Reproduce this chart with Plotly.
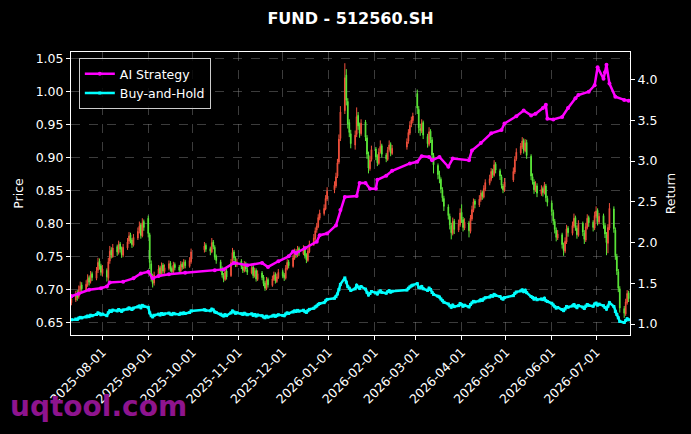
import pandas as pd
import plotly.graph_objects as go

# Trading calendar (weekdays minus exchange holidays)
start_date = "2025-07-11"
end_date = "2026-07-23"
holidays = ["2025-10-01", "2025-10-02", "2025-10-03", "2025-10-06", "2025-10-07", "2025-10-08",
            "2026-01-01", "2026-01-02",
            "2026-02-16", "2026-02-17", "2026-02-18", "2026-02-19", "2026-02-20",
            "2026-05-01", "2026-05-04", "2026-05-05"]

# Daily OHLC (one row per week)
open_ = [0.680,
         0.684, 0.694, 0.689, 0.700, 0.707,
         0.699, 0.707, 0.718, 0.712, 0.724,
         0.717, 0.729, 0.743, 0.736, 0.724,
         0.729, 0.717, 0.743, 0.760, 0.750,
         0.765, 0.756, 0.769, 0.762, 0.752,
         0.763, 0.773, 0.783, 0.775, 0.767,
         0.778, 0.789, 0.798, 0.781, 0.803,
         0.808, 0.783, 0.739, 0.716, 0.710,
         0.721, 0.733, 0.723, 0.737, 0.727,
         0.732, 0.740, 0.732, 0.726, 0.738,
         0.734, 0.728, 0.739, 0.733, 0.742,
         0.735, 0.742,
         0.760, 0.767,
         0.762, 0.757, 0.772, 0.764, 0.750,
         0.742, 0.732, 0.721, 0.715, 0.728,
         0.721, 0.742, 0.757, 0.747, 0.737,
         0.743, 0.734, 0.728, 0.739, 0.730,
         0.725, 0.734, 0.720, 0.729, 0.715,
         0.725, 0.719, 0.710, 0.701, 0.715,
         0.706, 0.715, 0.723, 0.712, 0.718,
         0.727, 0.722, 0.717, 0.731, 0.742,
         0.735, 0.747, 0.758, 0.751, 0.762,
         0.754, 0.763, 0.752, 0.744, 0.757,
         0.768, 0.777, 0.790, 0.795, 0.808,
         0.815, 0.822, 0.837,
         0.851, 0.857, 0.872, 0.893, 0.929,
         0.971, 1.025, 0.985, 0.953, 0.936,
         0.919, 0.935, 0.964, 0.949, 0.936,
         0.954, 0.930, 0.904, 0.883, 0.897,
         0.913, 0.902, 0.891, 0.909, 0.918,
         0.904, 0.897, 0.912, 0.920, 0.906,
         0.916, 0.925, 0.937, 0.950, 0.956,
         0.997, 0.973, 0.944, 0.940, 0.953,
         0.932, 0.920, 0.940, 0.927, 0.903,
         0.888, 0.873, 0.867, 0.851, 0.838,
         0.825, 0.811, 0.797, 0.785, 0.804,
         0.790, 0.798, 0.817, 0.806, 0.793,
         0.801, 0.788, 0.807, 0.820, 0.834,
         0.828, 0.836, 0.847, 0.840, 0.852,
         0.861, 0.867, 0.880, 0.873, 0.890,
         0.880, 0.871, 0.857, 0.850,
         0.866, 0.878, 0.898,
         0.907, 0.916, 0.926, 0.910, 0.923,
         0.902, 0.871, 0.863, 0.850, 0.857,
         0.845, 0.853, 0.846, 0.857, 0.838,
         0.831, 0.817, 0.803, 0.790, 0.778,
         0.783, 0.767, 0.758, 0.772, 0.793,
         0.785, 0.796, 0.809, 0.793, 0.782,
         0.800, 0.786, 0.775, 0.794, 0.809,
         0.802, 0.793, 0.811, 0.820, 0.802,
         0.812, 0.797, 0.783, 0.770, 0.793,
         0.822, 0.790, 0.750, 0.727, 0.701,
         0.671, 0.663, 0.680, 0.695]

high = [0.693,
        0.698, 0.699, 0.706, 0.712, 0.711,
        0.714, 0.723, 0.721, 0.728, 0.727,
        0.734, 0.748, 0.747, 0.739, 0.737,
        0.732, 0.748, 0.766, 0.764, 0.769,
        0.768, 0.774, 0.772, 0.765, 0.769,
        0.778, 0.787, 0.786, 0.778, 0.784,
        0.794, 0.803, 0.801, 0.808, 0.806,
        0.812, 0.786, 0.744, 0.724, 0.727,
        0.737, 0.736, 0.741, 0.740, 0.738,
        0.744, 0.743, 0.735, 0.742, 0.741,
        0.737, 0.743, 0.742, 0.746, 0.745,
        0.749, 0.762,
        0.772, 0.770,
        0.765, 0.778, 0.775, 0.767, 0.753,
        0.745, 0.735, 0.725, 0.732, 0.731,
        0.746, 0.763, 0.760, 0.750, 0.747,
        0.746, 0.737, 0.743, 0.742, 0.734,
        0.739, 0.737, 0.733, 0.732, 0.729,
        0.728, 0.722, 0.713, 0.719, 0.718,
        0.721, 0.727, 0.726, 0.724, 0.731,
        0.730, 0.725, 0.737, 0.746, 0.745,
        0.753, 0.762, 0.761, 0.766, 0.765,
        0.767, 0.766, 0.755, 0.763, 0.774,
        0.784, 0.794, 0.801, 0.814, 0.821,
        0.829, 0.843, 0.855,
        0.864, 0.877, 0.898, 0.935, 0.978,
        1.043, 1.034, 0.990, 0.958, 0.942,
        0.941, 0.976, 0.969, 0.953, 0.958,
        0.957, 0.934, 0.909, 0.902, 0.918,
        0.916, 0.905, 0.914, 0.926, 0.921,
        0.907, 0.916, 0.926, 0.923, 0.919,
        0.929, 0.943, 0.955, 0.962, 0.968,
        1.003, 0.978, 0.951, 0.958, 0.956,
        0.936, 0.946, 0.943, 0.931, 0.907,
        0.891, 0.880, 0.870, 0.855, 0.842,
        0.829, 0.815, 0.801, 0.809, 0.807,
        0.806, 0.823, 0.829, 0.810, 0.808,
        0.804, 0.813, 0.827, 0.838, 0.837,
        0.843, 0.851, 0.850, 0.858, 0.867,
        0.874, 0.884, 0.883, 0.896, 0.893,
        0.883, 0.874, 0.860, 0.869,
        0.885, 0.902, 0.914,
        0.922, 0.931, 0.929, 0.928, 0.927,
        0.905, 0.876, 0.867, 0.864, 0.861,
        0.858, 0.856, 0.863, 0.860, 0.842,
        0.835, 0.821, 0.807, 0.794, 0.790,
        0.786, 0.771, 0.779, 0.798, 0.796,
        0.803, 0.815, 0.812, 0.797, 0.805,
        0.803, 0.790, 0.801, 0.814, 0.812,
        0.805, 0.818, 0.826, 0.823, 0.816,
        0.815, 0.801, 0.787, 0.799, 0.831,
        0.826, 0.794, 0.754, 0.731, 0.705,
        0.675, 0.686, 0.699, 0.698]

low = [0.676,
       0.681, 0.683, 0.686, 0.695, 0.696,
       0.697, 0.704, 0.706, 0.709, 0.713,
       0.714, 0.725, 0.730, 0.721, 0.720,
       0.712, 0.713, 0.739, 0.747, 0.748,
       0.751, 0.753, 0.756, 0.748, 0.749,
       0.760, 0.769, 0.770, 0.763, 0.765,
       0.775, 0.785, 0.777, 0.779, 0.789,
       0.779, 0.731, 0.712, 0.703, 0.706,
       0.718, 0.719, 0.720, 0.724, 0.724,
       0.729, 0.727, 0.723, 0.724, 0.729,
       0.725, 0.726, 0.730, 0.731, 0.732,
       0.733, 0.739,
       0.756, 0.757,
       0.752, 0.755, 0.761, 0.745, 0.739,
       0.727, 0.718, 0.711, 0.713, 0.715,
       0.719, 0.739, 0.744, 0.734, 0.734,
       0.731, 0.725, 0.726, 0.727, 0.722,
       0.723, 0.717, 0.718, 0.712, 0.713,
       0.714, 0.705, 0.698, 0.699, 0.703,
       0.704, 0.713, 0.709, 0.710, 0.716,
       0.717, 0.713, 0.715, 0.729, 0.732,
       0.733, 0.745, 0.748, 0.749, 0.751,
       0.752, 0.747, 0.740, 0.742, 0.755,
       0.766, 0.775, 0.786, 0.793, 0.805,
       0.812, 0.820, 0.834,
       0.846, 0.854, 0.869, 0.890, 0.925,
       0.966, 0.979, 0.944, 0.931, 0.914,
       0.912, 0.931, 0.942, 0.930, 0.933,
       0.925, 0.898, 0.876, 0.880, 0.894,
       0.896, 0.887, 0.889, 0.906, 0.900,
       0.893, 0.895, 0.909, 0.902, 0.904,
       0.912, 0.921, 0.934, 0.946, 0.952,
       0.966, 0.937, 0.933, 0.937, 0.928,
       0.915, 0.917, 0.922, 0.898, 0.876,
       0.867, 0.861, 0.846, 0.833, 0.819,
       0.806, 0.791, 0.776, 0.782, 0.784,
       0.787, 0.795, 0.801, 0.788, 0.790,
       0.779, 0.785, 0.804, 0.817, 0.823,
       0.825, 0.833, 0.836, 0.838, 0.849,
       0.858, 0.864, 0.869, 0.871, 0.876,
       0.866, 0.853, 0.846, 0.848,
       0.863, 0.875, 0.895,
       0.904, 0.913, 0.906, 0.908, 0.898,
       0.866, 0.859, 0.845, 0.848, 0.840,
       0.842, 0.841, 0.844, 0.833, 0.826,
       0.812, 0.798, 0.785, 0.773, 0.775,
       0.762, 0.751, 0.755, 0.769, 0.780,
       0.782, 0.793, 0.789, 0.777, 0.780,
       0.781, 0.769, 0.772, 0.791, 0.795,
       0.788, 0.790, 0.808, 0.797, 0.799,
       0.792, 0.778, 0.752, 0.755, 0.790,
       0.786, 0.745, 0.722, 0.696, 0.665,
       0.657, 0.660, 0.677, 0.681]

close = [0.686,
         0.692, 0.688, 0.699, 0.705, 0.701,
         0.708, 0.716, 0.711, 0.722, 0.718,
         0.728, 0.741, 0.735, 0.726, 0.731,
         0.719, 0.742, 0.758, 0.752, 0.763,
         0.757, 0.768, 0.761, 0.753, 0.764,
         0.772, 0.781, 0.774, 0.768, 0.779,
         0.788, 0.796, 0.782, 0.801, 0.794,
         0.785, 0.741, 0.718, 0.709, 0.722,
         0.731, 0.724, 0.736, 0.728, 0.733,
         0.739, 0.731, 0.727, 0.737, 0.733,
         0.729, 0.738, 0.734, 0.741, 0.736,
         0.744, 0.757,
         0.766, 0.761,
         0.758, 0.771, 0.765, 0.749, 0.744,
         0.731, 0.722, 0.716, 0.727, 0.719,
         0.741, 0.756, 0.748, 0.738, 0.742,
         0.735, 0.729, 0.738, 0.731, 0.726,
         0.733, 0.721, 0.728, 0.716, 0.724,
         0.718, 0.709, 0.702, 0.714, 0.707,
         0.716, 0.722, 0.713, 0.719, 0.726,
         0.721, 0.718, 0.732, 0.741, 0.736,
         0.748, 0.757, 0.752, 0.761, 0.755,
         0.762, 0.751, 0.745, 0.758, 0.769,
         0.778, 0.789, 0.796, 0.809, 0.816,
         0.823, 0.838, 0.849,
         0.858, 0.871, 0.892, 0.928, 0.969,
         1.021, 0.987, 0.951, 0.938, 0.921,
         0.934, 0.962, 0.948, 0.937, 0.952,
         0.931, 0.905, 0.884, 0.896, 0.912,
         0.901, 0.892, 0.908, 0.917, 0.905,
         0.898, 0.911, 0.919, 0.907, 0.914,
         0.924, 0.938, 0.949, 0.957, 0.963,
         0.975, 0.945, 0.941, 0.952, 0.934,
         0.921, 0.939, 0.928, 0.904, 0.889,
         0.874, 0.868, 0.852, 0.839, 0.826,
         0.812, 0.798, 0.786, 0.803, 0.791,
         0.799, 0.816, 0.807, 0.794, 0.802,
         0.789, 0.808, 0.821, 0.833, 0.829,
         0.837, 0.846, 0.841, 0.853, 0.862,
         0.868, 0.879, 0.874, 0.889, 0.881,
         0.872, 0.858, 0.851, 0.863,
         0.879, 0.897, 0.908,
         0.917, 0.925, 0.911, 0.922, 0.903,
         0.872, 0.864, 0.851, 0.858, 0.846,
         0.852, 0.847, 0.858, 0.839, 0.832,
         0.818, 0.804, 0.791, 0.779, 0.784,
         0.768, 0.759, 0.773, 0.792, 0.786,
         0.797, 0.808, 0.794, 0.783, 0.799,
         0.787, 0.776, 0.795, 0.808, 0.801,
         0.794, 0.812, 0.819, 0.803, 0.811,
         0.798, 0.784, 0.771, 0.794, 0.823,
         0.792, 0.751, 0.728, 0.702, 0.672,
         0.664, 0.681, 0.694, 0.686]

# entry price used for the buy-and-hold curve
bh_entry_price = 0.652

# AI strategy cumulative return (sampled from the magenta curve)
ai_dates = ["2025-07-11", "2025-07-16", "2025-07-23", "2025-07-31", "2025-08-04", "2025-08-06",
            "2025-08-15", "2025-08-22", "2025-08-27", "2025-09-01", "2025-09-04", "2025-09-08",
            "2025-09-15", "2025-09-26", "2025-10-16", "2025-10-22", "2025-10-29", "2025-11-07",
            "2025-11-17", "2025-11-21", "2025-11-28", "2025-12-05", "2025-12-08", "2025-12-10",
            "2025-12-16", "2025-12-24", "2025-12-26", "2025-12-31", "2026-01-06", "2026-01-09",
            "2026-01-12", "2026-01-20", "2026-01-22", "2026-01-26", "2026-01-29", "2026-02-02",
            "2026-02-03", "2026-02-09", "2026-02-13", "2026-02-25", "2026-03-02", "2026-03-05",
            "2026-03-10", "2026-03-12", "2026-03-17", "2026-03-23", "2026-03-26", "2026-04-06",
            "2026-04-08", "2026-04-14", "2026-04-21", "2026-04-28", "2026-04-30", "2026-05-08",
            "2026-05-13", "2026-05-18", "2026-05-21", "2026-05-26", "2026-05-28", "2026-05-29",
            "2026-06-02", "2026-06-08", "2026-06-12", "2026-06-17", "2026-06-19", "2026-06-26",
            "2026-06-30", "2026-07-02", "2026-07-06", "2026-07-07", "2026-07-08", "2026-07-10",
            "2026-07-14", "2026-07-20", "2026-07-23"]
ai_values = [1.34, 1.37, 1.42, 1.44, 1.46, 1.51,
             1.52, 1.56, 1.62, 1.64, 1.56, 1.59,
             1.61, 1.63, 1.66, 1.67, 1.75, 1.72,
             1.75, 1.70, 1.77, 1.83, 1.89, 1.87,
             1.93, 2.01, 2.09, 2.11, 2.21, 2.40,
             2.56, 2.57, 2.73, 2.73, 2.66, 2.66,
             2.77, 2.82, 2.88, 2.97, 2.99, 3.06,
             3.05, 3.01, 3.05, 2.93, 3.03, 3.01,
             3.13, 3.22, 3.34, 3.38, 3.46, 3.55,
             3.62, 3.56, 3.58, 3.65, 3.69, 3.52,
             3.51, 3.54, 3.65, 3.77, 3.81, 3.85,
             3.93, 4.15, 4.01, 4.09, 4.18, 3.95,
             3.79, 3.75, 3.74]

month_ticks = ["2025-08-01", "2025-09-01", "2025-10-01", "2025-11-01", "2025-12-01", "2026-01-01",
               "2026-02-01", "2026-03-01", "2026-04-01", "2026-05-01", "2026-06-01", "2026-07-01"]

dates = pd.bdate_range(start_date, end_date, freq="C", holidays=holidays)
n = min(len(dates), len(close))
dates = dates[:n]
bh = [c / bh_entry_price for c in close[:n]]

up_color = "#f0503c"
down_color = "#5ce83a"
grid_color = "rgba(150,150,150,0.4)"

fig = go.Figure()

fig.add_trace(go.Candlestick(
    x=dates, open=open_[:n], high=high[:n], low=low[:n], close=close[:n],
    increasing=dict(line=dict(color=up_color, width=1), fillcolor=up_color),
    decreasing=dict(line=dict(color=down_color, width=1), fillcolor=down_color),
    showlegend=False, yaxis="y"
))

fig.add_trace(go.Scatter(
    x=ai_dates, y=ai_values, mode="lines+markers", name="AI Strategy",
    line=dict(color="#ff00ff", width=2.5),
    marker=dict(symbol="circle", size=4, color="#ff00ff"),
    yaxis="y2"
))

fig.add_trace(go.Scatter(
    x=dates, y=bh, mode="lines+markers", name="Buy-and-Hold",
    line=dict(color="#00ffff", width=2.5),
    marker=dict(symbol="square", size=3, color="#00ffff"),
    yaxis="y2"
))

fig.update_layout(
    width=691, height=434,
    margin=dict(l=71, r=61, t=52, b=99),
    paper_bgcolor="black", plot_bgcolor="black",
    font=dict(family="DejaVu Sans", color="white", size=12.5),
    title=dict(text="<b>FUND - 512560.SH</b>", x=0.5, xref="paper",
               y=0.958, yref="container", yanchor="middle",
               font=dict(size=16, color="white")),
    xaxis=dict(
        type="date", range=["2025-07-10 18:00", "2026-07-23 22:00"],
        tickvals=month_ticks, tickformat="%Y-%m-%d", tickangle=-45,
        showgrid=True, gridcolor=grid_color, griddash="dash", gridwidth=0.7,
        showline=True, linecolor="white", linewidth=1, mirror=True,
        ticks="outside", ticklen=4, tickcolor="white",
        rangeslider=dict(visible=False), zeroline=False, automargin=False
    ),
    yaxis=dict(
        range=[0.631, 1.06], tick0=0.65, dtick=0.05, tickformat=".2f",
        title=dict(text="Price", standoff=9, font=dict(size=12.5)),
        showgrid=True, gridcolor=grid_color, griddash="dash", gridwidth=0.7,
        showline=True, linecolor="white", linewidth=1, mirror=True,
        ticks="outside", ticklen=4, tickcolor="white", zeroline=False,
        automargin=False
    ),
    yaxis2=dict(
        overlaying="y", side="right",
        range=[0.865, 4.338], tick0=1.0, dtick=0.5, tickformat=".1f",
        title=dict(text="Return", standoff=9, font=dict(size=12.5)),
        showgrid=False, showline=True, linecolor="white", linewidth=1,
        ticks="outside", ticklen=4, tickcolor="white", zeroline=False,
        automargin=False
    ),
    legend=dict(
        x=0.014, y=0.978, xanchor="left", yanchor="top",
        bgcolor="rgba(0,0,0,0.8)", bordercolor="#cccccc", borderwidth=1,
        font=dict(size=12.5, color="white")
    ),
    hovermode=False
)

# watermark
fig.add_annotation(
    text="<b>uqtool.com</b>", xref="paper", yref="paper",
    x=-0.113, y=-0.254, xanchor="left", yanchor="middle",
    showarrow=False, font=dict(size=28, color="#8e148e", family="DejaVu Sans")
)

# drop the default page margin so the figure sits at the window origin
fig.write_html("out.html", config={"displayModeBar": False},
               post_script="document.body.style.margin='0px';")
